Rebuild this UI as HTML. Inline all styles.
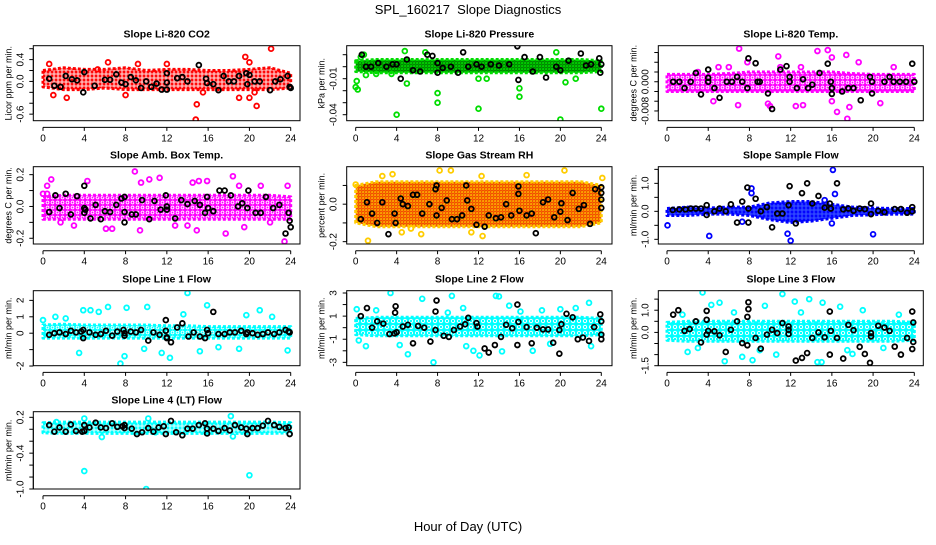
<!DOCTYPE html>
<html><head><meta charset="utf-8"><style>
body{margin:0;background:#fff}
svg text{font-family:"Liberation Sans",sans-serif}
</style></head><body>
<svg id="c" width="936" height="540" viewBox="0 0 936 540" xmlns="http://www.w3.org/2000/svg">
<rect width="936" height="540" fill="#fff"/>
<text x="468" y="14" text-anchor="middle" font-size="13" xml:space="preserve">SPL_160217  Slope Diagnostics</text>
<text x="468" y="531" text-anchor="middle" font-size="13">Hour of Day (UTC)</text>
</svg>
<script>
const xTicks=[0,4,8,12,16,20,24];
const bandHours=[0,2,4,6,8,10,12,14,16,18,20,22,24];
// ---- Panel 1: CO2
const co2Lo=[-0.1,-0.15,-0.15,-0.12,-0.15,-0.15,-0.15,-0.15,-0.15,-0.15,-0.15,-0.15,-0.12];
const co2Hi=[0.2,0.25,0.22,0.22,0.25,0.2,0.22,0.22,0.2,0.2,0.22,0.25,0.15];
const co2Pts=[[14.8,-0.7],[14.9,-0.42],[19.6,0.45],[20,0.35],[22.1,0.6],[1,-0.25],[2.3,-0.3],[19,-0.3],[20.7,-0.45],[20,-0.3],[6.3,0.35],[9.2,0.32],[12,0.32],[5.3,0.22],[0.6,0.32],[20.5,-0.2],[15.5,-0.2],[8,-0.25]];
const co2Blk=[[0.6,0.05],[1.1,-0.08],[1.7,-0.1],[2.2,0.1],[2.8,0.04],[3.3,0.02],[3.9,-0.2],[4,0.17],[5,-0.08],[6,0.03],[6.5,0.03],[7.1,0.13],[7.6,-0.02],[8,-0.05],[8.5,0.08],[9,0.02],[9.5,-0.12],[10,0],[10.5,-0.1],[11,-0.04],[11.5,-0.15],[12,0.15],[12,-0.02],[12,-0.15],[13,0.06],[13.5,0.08],[14,0],[15.1,0.3],[15.8,0.05],[15.9,-0.03],[16.5,-0.05],[17,-0.16],[17.5,0.1],[18,0],[18.5,0],[19,0.1],[19.7,0.15],[19.8,-0.05],[20,0.12],[20.5,0],[21,0],[22,-0.16],[22.5,0],[23,0.04],[23.7,0.1],[23.9,-0.1],[24,-0.12]];
const co2Ticks=[-0.6,-0.4,-0.2,0,0.2,0.4,0.6];
const co2Labels=["-0.6","","","0.0","","0.4",""];
// ---- Panel 2: Pressure
const prLo=[-0.004,-0.005,-0.005,-0.005,-0.005,-0.005,-0.005,-0.005,-0.005,-0.005,-0.005,-0.005,-0.004];
const prHi=[0.005,0.006,0.006,0.006,0.006,0.006,0.006,0.006,0.006,0.006,0.006,0.006,0.005];
const prPts=[[0,-0.017],[0.1,-0.012],[0.2,-0.019],[4,-0.04],[8,-0.022],[8,-0.03],[0.8,0.01],[0.5,0.008],[4.8,0.013],[6.8,0.012],[16,-0.025],[16,-0.018],[12,-0.035],[20,-0.044],[24,-0.035],[1,-0.007],[5,-0.014],[12,-0.01],[12.8,-0.01],[19.6,0.012],[20.5,-0.013],[21.5,-0.01],[2,-0.006],[3.5,-0.006]];
const prBlk=[[0.6,0.01],[1,0],[1.5,0],[2.2,0.003],[3,0],[3.6,0.002],[4,0.002],[4.4,-0.01],[5,0.006],[5.6,-0.003],[6.3,-0.004],[7,0.01],[7.5,0.009],[8,0.003],[8,-0.005],[8.5,-0.001],[9.3,0],[10,-0.005],[10.5,0.012],[11,0],[11.8,0.002],[12.3,0],[13.2,0.002],[14,0.001],[15,0.002],[15.8,0.017],[15.9,-0.011],[16.5,0.008],[17.3,-0.004],[18,0.008],[18.6,-0.009],[19.6,0],[20,-0.003],[20.8,0.005],[22,0.011],[22.5,0.001],[23,0.002],[23.8,0.007],[23.9,-0.005],[24,0.002]];
const prTicks=[0.01,0,-0.01,-0.02,-0.03,-0.04];
const prLabels=["","","-0.01","","","-0.04"];
// ---- Panel 3: Li-820 Temp
const tLo=[-0.002,-0.002,-0.002,-0.002,-0.002,-0.002,-0.002,-0.002,-0.002,-0.002,-0.002,-0.002,-0.002];
const tHi=[0.0015,0.0015,0.0015,0.0017,0.002,0.002,0.002,0.002,0.002,0.0017,0.0015,0.0015,0.0015];
const tPts=[[7,0.0068],[7.8,0.004],[10.8,0.0052],[14.6,0.0063],[15.6,0.0065],[16,0.005],[17.4,0.0055],[18.6,0.004],[10,-0.005],[16.5,-0.0062],[17.5,-0.0076],[12.5,-0.005],[13.2,-0.0048],[4.5,-0.004],[6.9,-0.0048],[20.7,-0.0044],[17.7,-0.0052],[9.8,-0.0045],[16,-0.004],[3,0.002],[5,0.003],[6,0.003],[11,0.003],[22,0.003],[13,0.003]];
const tBlk=[[0.6,0],[1.2,0],[1.7,-0.0013],[2.3,0],[2.8,0.0018],[3.3,-0.0026],[4,0.0025],[4,0.0008],[4,0],[4.6,-0.0013],[5.1,-0.0033],[5.8,0],[6.3,0],[6.8,0.001],[7.3,0],[7.8,-0.0013],[7.9,0.0048],[8.6,0.0038],[8.8,0],[9,0],[9.8,-0.0024],[10.2,-0.0056],[11,0.0025],[11.6,0.0032],[11.9,0.001],[11.9,0],[12.6,-0.0013],[13.2,0.0005],[13.7,-0.0013],[14.1,-0.0006],[14.8,0.0018],[15.6,0.0037],[15.9,0],[16,-0.0013],[16,-0.0025],[17,-0.002],[17.6,-0.0013],[18.1,-0.0013],[18.8,-0.0038],[19.7,0.001],[19.9,0],[19.9,-0.0024],[21.1,0],[21.6,0.001],[22,0],[22.6,0],[23.2,0],[23.8,0.0037],[24,0]];
const tTicks=[0.006,0.004,0.002,0,-0.002,-0.004,-0.006];
const tLabels=["","","","0.000","","","-0.008"];
// ---- Panel 4: Amb Box Temp
const aLo=[-0.08,-0.08,-0.08,-0.08,-0.08,-0.08,-0.08,-0.08,-0.08,-0.08,-0.08,-0.08,-0.08];
const aHi=[0.06,0.07,0.07,0.07,0.07,0.07,0.07,0.07,0.07,0.07,0.07,0.07,0.06];
const aPts=[[0.4,0.13],[0.8,0.17],[0,0.08],[0.4,0.08],[4.3,0.16],[8.9,0.22],[9.5,0.15],[10.3,0.17],[11.3,0.18],[14.5,0.15],[15.1,0.16],[15.9,0.16],[18.4,0.19],[19,0.13],[21.1,0.13],[23.7,0.13],[23.4,-0.22],[1.7,-0.1],[3,-0.12],[6.1,-0.14],[6.7,-0.14],[9.4,-0.15],[12.8,-0.12],[14,-0.12],[14.9,-0.15],[17.7,-0.17],[19.5,-0.13],[22,-0.1]];
const aBlk=[[0.6,-0.035],[1.2,0.07],[1.6,-0.01],[2.2,0.08],[2.7,-0.05],[3.3,0.065],[4,0.13],[4,-0.01],[4,-0.04],[4.1,-0.02],[4.6,-0.075],[5.1,0.01],[5.6,-0.08],[6,-0.03],[6.5,-0.035],[7.1,0.01],[7.6,0.05],[7.9,0.06],[7.9,-0.035],[7.9,-0.1],[8.6,-0.05],[9,-0.05],[9.6,0.04],[10.3,-0.08],[10.8,0.035],[11.4,-0.02],[11.9,0.07],[12,0],[12,-0.02],[12.8,-0.075],[13.4,0.04],[14,0.015],[14.7,0.035],[15.2,0.01],[15.7,-0.04],[15.9,0.06],[16,-0.01],[16.5,-0.03],[17.1,0.1],[17.6,0.1],[18.2,0.07],[18.9,0],[19.3,0.02],[19.8,-0.01],[19.9,0.1],[20.6,-0.04],[21.1,-0.04],[21.6,0.06],[22.3,-0.01],[22.9,0.01],[23.5,-0.17],[23.8,-0.04],[23.9,-0.09],[24,-0.13]];
const aTicks=[0.2,0.1,0,-0.1,-0.2];
const aLabels=["0.2","","0.0","","-0.2"];
// ---- Panel 5: Gas Stream RH
const rLo=[-0.1,-0.12,-0.12,-0.12,-0.12,-0.12,-0.12,-0.12,-0.12,-0.12,-0.12,-0.12,-0.1];
const rHi=[0.1,0.12,0.12,0.12,0.12,0.12,0.12,0.12,0.12,0.12,0.12,0.12,0.1];
const rPts=[[0,0.105],[2.6,0.15],[3.6,0.16],[1.2,-0.195],[8.2,0.18],[9.3,0.18],[12.3,0.15],[16.7,0.155],[20.4,0.18],[24.1,0.14],[11.3,-0.15],[12.4,-0.17],[4.5,-0.15],[5.4,-0.13],[6.4,-0.16]];
const rBlk=[[0.5,-0.08],[1.1,0.01],[1.6,-0.05],[2.1,-0.1],[2.6,0.01],[3.2,-0.16],[3.8,-0.05],[3.9,-0.1],[4.4,0.03],[4.6,0],[5.1,-0.01],[5.6,0.05],[6,0.05],[6.5,-0.05],[7.2,0],[7.8,0.08],[7.9,0.1],[7.9,-0.06],[8.4,-0.02],[8.9,0.02],[9.4,-0.08],[9.9,-0.08],[10.4,-0.06],[10.8,0.1],[10.9,0.02],[11.3,-0.025],[11.8,-0.11],[12.6,-0.12],[13,-0.06],[13.7,-0.075],[14.2,-0.07],[14.7,0],[15.2,-0.06],[15.9,0.055],[15.9,0.095],[16,-0.035],[16.7,-0.06],[17.2,-0.05],[17.6,-0.155],[18.3,0.01],[18.8,0.025],[19.4,-0.07],[20,-0.04],[20.1,0.005],[20.7,-0.085],[21.2,0.06],[21.8,-0.025],[22.3,-0.005],[22.9,-0.105],[23.4,0.08],[24,0.025],[24,0.09],[24,0.06],[24,-0.02]];
const rTicks=[0.1,0,-0.1,-0.2];
const rLabels=["","0.0","","-0.2"];
// ---- Panel 6: Sample Flow
const sLo=[-0.15,-0.15,-0.1,-0.1,-0.15,-0.3,-0.4,-0.35,-0.25,-0.15,-0.12,-0.1,-0.1];
const sHi=[0.1,0.15,0.12,0.15,0.15,0.3,0.35,0.35,0.25,0.15,0.12,0.1,0.1];
const sPts=[[0.05,-0.5],[4.1,-0.88],[12,-1.05],[20,-0.82],[16.1,1.48],[16.3,0.62],[8.2,0.82],[8.2,0.65],[7.3,-0.37],[11.7,-0.8],[16,-0.43],[15.3,0.4]];
const sBlk=[[0.55,0.05],[1.2,0.07],[1.8,0.07],[2.3,0.1],[2.8,0.1],[3.3,0.1],[3.85,0.22],[3.85,-0.13],[4.6,0],[5.1,0.1],[5.7,0],[6.2,0.25],[6.8,-0.4],[7.3,0.35],[7.8,0.85],[7.9,0.1],[7.9,-0.4],[8.6,0.45],[9.1,0],[9.7,0.15],[10.2,-0.57],[10.7,-0.08],[11.2,-0.08],[11.9,0.9],[11.8,0.22],[12.5,-0.43],[13.1,0.65],[13.6,1.0],[14.1,0.28],[14.7,0.55],[15.3,0.13],[15.8,0.28],[15.9,0.1],[16.5,1.0],[17.1,0.07],[17.6,0.1],[18.1,0.02],[18.7,0.1],[19.2,0.08],[19.8,0.28],[19.8,-0.1],[20.5,0.02],[21.1,-0.03],[22.1,0.08],[22.7,0.08],[23.3,-0.05],[23.8,0.15],[23.8,0]];
const sTicks=[1.5,1,0.5,0,-0.5,-1];
const sLabels=["","1.0","","0.0","","-1.0"];
// ---- Panel 7: Line 1 Flow
const l1Lo=[-0.3,-0.3,-0.3,-0.3,-0.3,-0.3,-0.3,-0.3,-0.3,-0.3,-0.3,-0.3,-0.3];
const l1Hi=[0.5,0.55,0.5,0.5,0.5,0.5,0.45,0.45,0.4,0.4,0.4,0.4,0.4];
const l1Pts=[[14,2.45],[7.5,-1.85],[3.5,-1.2],[7.9,-1.4],[11.5,-1.2],[12.3,-1.5],[6.3,1.6],[8.1,1.55],[10.1,1.6],[15.9,1.7],[21,1.4],[4.6,1.4],[5.4,1.3],[19.7,1.1],[2.2,0.9],[0,0.8],[23.7,-1.05],[19,-0.95],[15.2,-1.1],[9.8,-0.95],[17,-0.85],[22.2,1.0],[3.9,1.4],[13.6,1.15],[1.2,1.0]];
const l1Blk=[[0.6,-0.1],[1.1,0],[1.6,0.05],[2.2,-0.05],[2.7,0.15],[3.2,0.05],[3.7,0.1],[3.9,0.2],[3.9,-0.3],[4.5,0.05],[5.1,-0.1],[5.6,-0.05],[6.1,0.15],[6.7,-0.15],[7.2,0.1],[7.8,0.2],[7.9,-0.15],[7.9,0],[8.5,0.1],[9,0.05],[9.5,0.2],[10.2,-0.45],[10.7,0.05],[11.3,-0.1],[11.9,0.8],[11.9,0.15],[12,-0.25],[12,-0.3],[12.4,-0.55],[13,0.35],[13.5,0.6],[14.1,-0.2],[14.6,0.05],[15.2,-0.2],[15.7,-0.3],[15.9,0.2],[16,0],[16.5,1.3],[17,-0.05],[17.6,-0.05],[18.1,0.05],[18.6,0.05],[19.2,0.15],[19.7,-0.05],[19.8,0.05],[20.3,0],[20.8,-0.1],[21.3,-0.05],[21.8,0.05],[22.4,-0.05],[22.9,0.05],[23.5,0.2],[23.8,0.1],[23.9,0.05]];
const l1Ticks=[2,1,0,-1,-2];
const l1Labels=["2","1","0","","-2"];
// ---- Panel 8: Line 2 Flow
const l2Lo=[-0.6,-0.7,-0.7,-0.7,-0.7,-0.7,-0.7,-0.7,-0.7,-0.7,-0.7,-0.7,-0.6];
const l2Hi=[0.8,0.9,0.9,0.9,0.9,0.9,0.9,0.9,0.9,0.9,0.9,0.9,0.8];
const l2Pts=[[3.4,3.0],[7.6,-3.0],[5.1,-2.3],[0.1,1.6],[0.3,-1.1],[6.5,2.5],[9.4,2.75],[10.5,1.7],[2,1.5],[13.7,2.75],[14,2.7],[12.1,-2.4],[11.5,-2.0],[14.3,-2.05],[17.3,-2.0],[20,1.6],[22.8,2.15],[16.1,1.4],[18.2,1.5],[1,-1.6],[4.3,-1.5],[9,1.3],[10.8,-1.6],[15,1.9],[19,-1.4],[21.5,1.7],[23,-1.6]];
const l2Blk=[[0.5,1.0],[1.1,1.7],[1.6,0],[2.1,0.55],[2.7,0.35],[3.3,-0.55],[3.8,-0.5],[3.9,1.85],[3.85,1.3],[4,-0.4],[4.6,0.1],[5.1,0.25],[5.6,-1.35],[6.1,0.15],[6.7,0],[7.3,-1.2],[7.8,-0.2],[7.9,2.35],[7.8,1.4],[8.6,-0.7],[9.1,-0.8],[9.6,-0.2],[10.2,0.1],[10.7,0.3],[11,0.85],[11.8,0.4],[11.9,0.1],[12.6,-1.8],[13,-2.15],[13.6,-1.5],[14.2,-0.8],[14.7,0.25],[15.3,-0.05],[15.8,2.0],[15.9,0.5],[15.8,-1.5],[16.7,0.05],[17.2,-1.35],[17.7,0],[18.3,-0.15],[18.8,-0.15],[19.3,-1.3],[19.9,-0.2],[19.9,-2.25],[20.1,0.3],[20.6,1.2],[21.2,0.9],[21.7,-1],[22.2,-0.85],[22.8,-1.15],[23.3,0.05],[23.9,1.15],[24,0.55],[24,-0.6],[24,-1]];
const l2Ticks=[3,2,1,0,-1,-2,-3];
const l2Labels=["3","","1","","-1","","-3"];
// ---- Panel 9: Line 3 Flow
const l3Lo=[-0.35,-0.4,-0.4,-0.4,-0.4,-0.4,-0.4,-0.4,-0.4,-0.4,-0.4,-0.4,-0.35];
const l3Hi=[0.45,0.5,0.5,0.5,0.5,0.5,0.5,0.5,0.5,0.5,0.5,0.5,0.45];
const l3Pts=[[3.45,1.8],[11.2,1.73],[12.4,1.39],[13.8,1.5],[5.6,-1.3],[14.6,-1.34],[15,-1.34],[2,-0.88],[10.6,-1],[18,-0.97],[8.3,-1.25],[7.3,-1.1],[4.3,1.24],[5.1,1.34],[15.1,1.34],[16.8,1.16],[9.5,1.2],[1.5,0.8],[6.5,0.9],[9,-0.8],[13,0.9],[17.5,-0.8],[19,1.0],[21,-0.7],[22.5,0.8],[3,-0.7]];
const l3Blk=[[0.6,0.8],[1.1,1.0],[1.7,0.07],[2.2,0.15],[2.8,0.5],[3.3,-0.45],[3.85,0.97],[3.85,0.57],[3.85,-0.1],[4,0.07],[4.6,0.05],[5.1,-0.13],[5.7,-0.88],[6.2,0.12],[6.8,0.5],[7.3,-0.48],[7.8,-0.58],[7.8,0.7],[7.9,1.05],[7.9,1.36],[8.6,-0.25],[9.1,-0.73],[9.7,-0.1],[10.2,0.12],[10.7,-0.03],[11.2,0.42],[11.8,0.12],[11.8,0.27],[11.8,-0.07],[12.5,-1.27],[13.1,-1.15],[13.6,-0.93],[14.1,-0.25],[14.7,0],[15.3,-0.22],[15.8,0.94],[15.9,0.07],[15.8,-1.0],[16.5,-0.25],[17.1,-1.18],[17.6,0.34],[18.1,0.1],[18.7,-0.65],[19.2,-0.97],[19.8,-0.18],[19.7,-1.37],[19.8,-0.03],[20.5,0.3],[21.1,0.22],[21.6,0.07],[22.1,-0.64],[22.7,-1.0],[23.3,-0.25],[23.8,0.94],[23.9,0.45],[23.9,-0.43],[23.8,-0.75]];
const l3Ticks=[1.5,1,0.5,0,-0.5,-1,-1.5];
const l3Labels=["","1.0","","0.0","","","-1.5"];
// ---- Panel 10: Line 4 (LT) Flow
const l4Lo=[-0.06,-0.07,-0.07,-0.07,-0.07,-0.07,-0.07,-0.07,-0.07,-0.07,-0.07,-0.07,-0.06];
const l4Hi=[0.11,0.12,0.12,0.12,0.12,0.12,0.12,0.12,0.12,0.12,0.12,0.12,0.11];
const l4Pts=[[4,-0.7],[10,-1.0],[20,-0.77],[18.2,0.22],[4,0.18],[10.2,0.18],[5.7,-0.13],[18.4,-0.12],[10.9,-0.05],[1.3,0.12]];
const l4Blk=[[0.6,0.07],[1.1,-0.04],[1.6,0.03],[2.2,-0.04],[2.7,0.08],[3.2,-0.03],[3.8,-0.04],[4,0.07],[4,-0.03],[4.5,0.03],[5.1,0.11],[5.6,0.03],[6.1,0.02],[6.7,0.1],[7.2,0.04],[7.7,0.05],[7.9,0.07],[7.9,0.02],[8.6,0.01],[9.1,-0.08],[9.6,-0.05],[10.2,0.02],[10.7,-0.04],[11.2,0.03],[11.7,0.05],[11.9,-0.08],[12.4,0.14],[12.9,-0.05],[13.5,-0.1],[14,0.01],[14.5,0.01],[15.1,0.07],[15.7,0.1],[15.9,0.01],[15.9,-0.07],[16.5,0.01],[17,-0.03],[17.6,0.02],[18.1,-0.02],[18.6,0.07],[19.2,0.03],[19.7,0.01],[19.8,-0.08],[20.3,0.02],[20.8,0.02],[21.3,0.06],[21.8,0.14],[22.4,0.07],[22.9,0.04],[23.5,0.02],[23.8,0.03],[23.9,-0.08]];
const l4Ticks=[0.2,0,-0.2,-0.4,-0.6,-0.8,-1.0];
const l4Labels=["0.2","","","-0.4","","","-1.0"];

const svg=document.getElementById('c');
const NS='http://www.w3.org/2000/svg';
function mk(tag,attrs,parent){const e=document.createElementNS(NS,tag);for(const k in attrs)e.setAttribute(k,attrs[k]);(parent||svg).appendChild(e);return e;}
const defs=mk('defs',{});
function pattern(id,bg,dot,w){
 const p=mk('pattern',{id:id,width:w,height:w,patternUnits:'userSpaceOnUse'},defs);
 mk('rect',{width:w,height:w,fill:bg},p);
 mk('circle',{cx:w/2,cy:w/2,r:w*0.28,fill:'none',stroke:dot,'stroke-width':0.9},p);
 return 'url(#'+id+')';
}
const cols=[{l:33.3,r:300,x0:43,x24:290.7},{l:346.7,r:612,x0:355.7,x24:601.3},{l:658.3,r:923.3,x0:667,x24:914.3}];
const rows=[{t:45.7,b:120.7},{t:166.7,b:244},{t:290.7,b:365.7},{t:411.7,b:489}];
const panels=[
 {name:"co2",title:"Slope Li-820 CO2",yt:"Licor ppm per min.",c:0,r:0,top:0.655,bot:-0.72,lo:co2Lo,hi:co2Hi,pts:co2Pts,blk:co2Blk,ticks:co2Ticks,labs:co2Labels,col:"#ff0000",bg:"#ff0000",dot:"#ffffff",pw:4},
 {name:"pressure",title:"Slope Li-820 Pressure",yt:"kPa per min.",c:1,r:0,top:0.0175,bot:-0.045,lo:prLo,hi:prHi,pts:prPts,blk:prBlk,ticks:prTicks,labs:prLabels,col:"#00dd00",bg:"#00ee00",dot:"#006600",pw:3},
 {name:"temp",title:"Slope Li-820 Temp.",yt:"degrees C per min.",c:2,r:0,top:0.0074,bot:-0.008,lo:tLo,hi:tHi,pts:tPts,blk:tBlk,ticks:tTicks,labs:tLabels,col:"#ff00ff",bg:"#ff00ff",dot:"#ffffff",pw:5},
 {name:"amb-box-temp",title:"Slope Amb. Box Temp.",yt:"degrees C per min.",c:0,r:1,top:0.25,bot:-0.236,lo:aLo,hi:aHi,pts:aPts,blk:aBlk,ticks:aTicks,labs:aLabels,col:"#ff00ff",bg:"#ff00ff",dot:"#ffffff",pw:5},
 {name:"gas-rh",title:"Slope Gas Stream RH",yt:"percent per min.",c:1,r:1,top:0.2,bot:-0.2125,lo:rLo,hi:rHi,pts:rPts,blk:rBlk,ticks:rTicks,labs:rLabels,col:"#ffcc00",bg:"#ffcc00",dot:"#ee2200",pw:3},
 {name:"sample-flow",title:"Slope Sample Flow",yt:"ml/min per min.",c:2,r:1,top:1.595,bot:-1.167,lo:sLo,hi:sHi,pts:sPts,blk:sBlk,ticks:sTicks,labs:sLabels,col:"#0000ff",bg:"#0000ff",dot:"#4466ff",pw:4},
 {name:"line1-flow",title:"Slope Line 1 Flow",yt:"ml/min per min.",c:0,r:2,top:2.59,bot:-1.98,lo:l1Lo,hi:l1Hi,pts:l1Pts,blk:l1Blk,ticks:l1Ticks,labs:l1Labels,col:"#00ffff",bg:"#00ffff",dot:"#ffffff",pw:5},
 {name:"line2-flow",title:"Slope Line 2 Flow",yt:"ml/min per min.",c:1,r:2,top:3.2,bot:-3.29,lo:l2Lo,hi:l2Hi,pts:l2Pts,blk:l2Blk,ticks:l2Ticks,labs:l2Labels,col:"#00ffff",bg:"#00ffff",dot:"#ffffff",pw:6},
 {name:"line3-flow",title:"Slope Line 3 Flow",yt:"ml/min per min.",c:2,r:2,top:1.88,bot:-1.5,lo:l3Lo,hi:l3Hi,pts:l3Pts,blk:l3Blk,ticks:l3Ticks,labs:l3Labels,col:"#00ffff",bg:"#00ffff",dot:"#ffffff",pw:6},
 {name:"line4-flow",title:"Slope Line 4 (LT) Flow",yt:"ml/min per min.",c:0,r:3,top:0.294,bot:-1.0,lo:l4Lo,hi:l4Hi,pts:l4Pts,blk:l4Blk,ticks:l4Ticks,labs:l4Labels,col:"#00ffff",bg:"#00ffff",dot:"#ffffff",pw:4}
];
panels.forEach(p=>{
 const C=cols[p.c],R=rows[p.r];
 const xs=h=>C.x0+(C.x24-C.x0)*h/24;
 const ys=v=>R.t+(p.top-v)/(p.top-p.bot)*(R.b-R.t);
 const g=mk('g',{});
 
 
 const clip=mk('clipPath',{id:'cl-'+p.name},g);
 mk('rect',{x:C.l,y:R.t,width:C.r-C.l,height:R.b-R.t},clip);
 const pg=mk('g',{'clip-path':'url(#cl-'+p.name+')'},g);
 const fill=pattern('pat-'+p.name,p.bg,p.dot,p.pw);
 let d='';
 bandHours.forEach((h,i)=>{d+=(i?'L':'M')+xs(h).toFixed(1)+','+ys(p.hi[i]).toFixed(1);});
 for(let i=bandHours.length-1;i>=0;i--)d+='L'+xs(bandHours[i]).toFixed(1)+','+ys(p.lo[i]).toFixed(1);
 const band=mk('path',{d:d+'Z',fill:fill,stroke:p.col,'stroke-width':3,'stroke-dasharray':'3 2','stroke-linejoin':'round'},pg);
 
 
 p.pts.forEach(q=>{
  const e=mk('circle',{cx:xs(q[0]),cy:ys(q[1]),r:2.4,fill:'none',stroke:p.col,'stroke-width':1.8},pg);
  
  
 });
 p.blk.forEach(q=>{
  const e=mk('circle',{cx:xs(q[0]),cy:ys(q[1]),r:2.4,fill:'none',stroke:'#000','stroke-width':1.8},pg);
  
  
 });
 const box=mk('rect',{x:C.l,y:R.t,width:C.r-C.l,height:R.b-R.t,fill:'none',stroke:'#000','stroke-width':1},g);
 
 
 const t=mk('text',{x:(C.l+C.r)/2,y:R.t-8,'text-anchor':'middle','font-size':10.5,'font-weight':'bold'},g);
 t.textContent=p.title;
 
 
 const ay=R.b+6.7;
 mk('line',{x1:xs(0),x2:xs(24),y1:ay,y2:ay,stroke:'#000'},g);
 xTicks.forEach(h=>{
  mk('line',{x1:xs(h),x2:xs(h),y1:ay,y2:ay+3.5,stroke:'#000'},g);
  const tx=mk('text',{x:xs(h),y:ay+14,'text-anchor':'middle','font-size':10},g);
  tx.textContent=h;
  
  
 });
 const ty=p.ticks.map(ys);
 mk('line',{x1:C.l,x2:C.l,y1:Math.min(...ty),y2:Math.max(...ty),stroke:'#000'},g);
 p.ticks.forEach((v,i)=>{
  const y=ys(v);
  mk('line',{x1:C.l-4,x2:C.l,y1:y,y2:y,stroke:'#000'},g);
  if(p.labs[i]){
   const tl=mk('text',{x:0,y:0,'text-anchor':'middle','font-size':10,transform:'translate('+(C.l-10)+','+y+') rotate(-90)'},g);
   tl.textContent=p.labs[i];
   
   
  }
 });
 const yt=mk('text',{x:0,y:0,'text-anchor':'middle','font-size':9,transform:'translate('+(C.l-22)+','+((R.t+R.b)/2)+') rotate(-90)'},g);
 yt.textContent=p.yt;
 
 
});
</script>
</body></html>
